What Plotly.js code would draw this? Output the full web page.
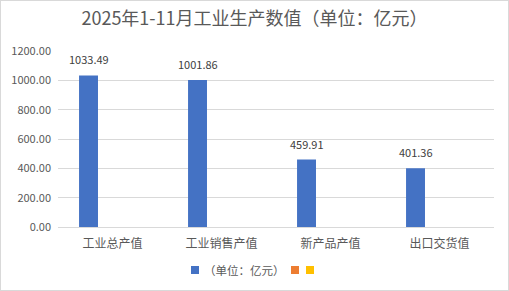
<!DOCTYPE html>
<html><head><meta charset="utf-8">
<script src="https://cdn.plot.ly/plotly-3.0.1.min.js"></script>
<style>html,body{margin:0;padding:0;background:#fff}#c{width:509px;height:291px;box-sizing:border-box;border:1px solid #d9d9d9}</style>
</head><body><div id="c"></div>
<script>
var categories = ['工业总产值','工业销售产值','新产品产值','出口交货值'];
var values = [1033.49, 1001.86, 459.91, 401.36];
var seriesNames = ['（单位：亿元）', '', ''];
var seriesColors = ['#4472C4', '#ED7D31', '#FFC000'];
var emptySeries = [null, null, null, null];
var titleText = '2025年1-11月工业生产数值（单位：亿元）';
var font = '"Noto Sans CJK SC", "Microsoft YaHei", sans-serif';

var W = 507, H = 289, M = {l:57, r:14, t:50, b:63};
var pw = W - M.l - M.r, ph = H - M.t - M.b;
function px2x(px){ return (px - 1 - M.l) / pw; }
function py2y(py){ return (H - M.b - (py - 1)) / ph; }

var seriesData = [values, emptySeries, emptySeries];
var traces = seriesData.map(function(d, i){
  return {type:'bar', x:categories, y:d, name:seriesNames[i], marker:{color:seriesColors[i]}, hoverinfo:'none', showlegend:false};
});

var annotations = values.map(function(v, i){
  return {x:categories[i], y:v, xref:'x', yref:'y', text:v.toFixed(2), showarrow:false,
    xanchor:'center', yanchor:'bottom', yshift:6, xshift:-24,
    font:{size:11, color:'#404040', family:font}};
});
// custom compact legend (Excel style)
var legendY = 270;
var shapes = [];
var legendItems = [{sq:191, txt:202}, {sq:291}, {sq:306}];
legendItems.forEach(function(it, i){
  shapes.push({type:'rect', xref:'paper', yref:'paper', x0:px2x(it.sq), x1:px2x(it.sq+8), y0:py2y(legendY+4), y1:py2y(legendY-4),
    fillcolor:seriesColors[i], line:{width:0}});
  if (seriesNames[i]) {
    annotations.push({xref:'paper', yref:'paper', x:px2x(it.txt), y:py2y(legendY), xanchor:'left', yanchor:'middle',
      text:seriesNames[i], showarrow:false, font:{size:11.5, color:'#595959', family:font}});
  }
});

var layout = {
  width:W, height:H,
  margin:M,
  paper_bgcolor:'#fff', plot_bgcolor:'#fff',
  font:{family:font, color:'#595959'},
  title:{text:titleText, x:0.5, xanchor:'center', y:1-18/289, yanchor:'middle', font:{size:18, color:'#595959', family:font}},
  barmode:'group', bargap:0.34, bargroupgap:0.21,
  xaxis:{type:'category', showline:true, linecolor:'#d9d9d9', linewidth:1, ticks:'', ticklabelstandoff:6, tickfont:{size:12, color:'#595959'}, fixedrange:true},
  yaxis:{range:[0,1200], dtick:200, tickformat:'.2f', showgrid:true, gridcolor:'#d9d9d9', zeroline:false, showline:false, ticks:'', ticklabelstandoff:6, tickfont:{size:11, color:'#595959'}},
  showlegend:false,
  annotations:annotations,
  shapes:shapes
};
Plotly.newPlot('c', traces, layout, {displayModeBar:false, staticPlot:true});
</script></body></html>
